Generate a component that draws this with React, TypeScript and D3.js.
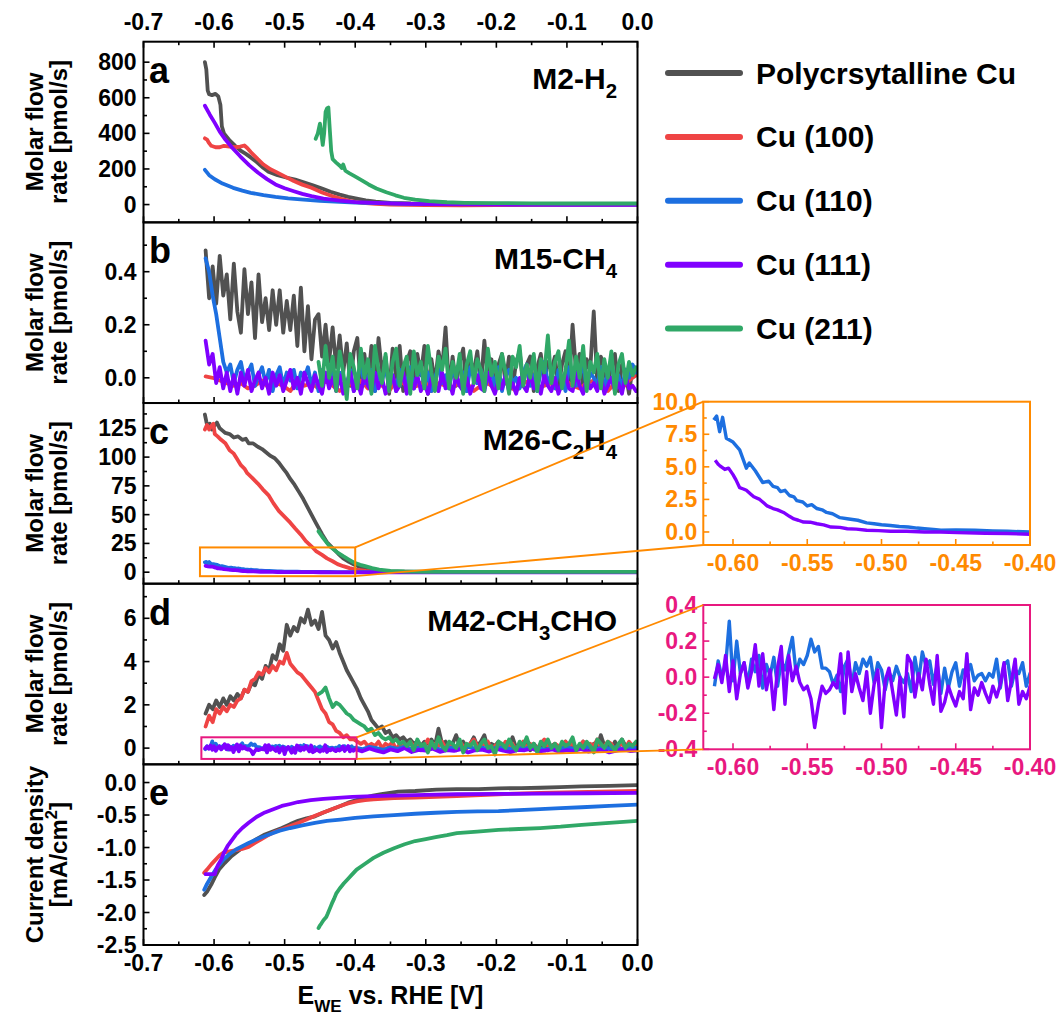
import React from 'react';
import * as d3 from 'd3';

type Pt = [number, number];

// legend entries, same order in every panel
const seriesNames = ['Polycrsytalline Cu', 'Cu (100)', 'Cu (110)', 'Cu (111)', 'Cu (211)'];
const seriesColors = ['#515151', '#ef4444', '#1d6fe0', '#8000ff', '#30a867'];

const xMajor = [-0.7, -0.6, -0.5, -0.4, -0.3, -0.2, -0.1, 0.0];
const xMinor = [-0.65, -0.55, -0.45, -0.35, -0.25, -0.15, -0.05];
const insetXMajor = [-0.6, -0.55, -0.5, -0.45, -0.4];
const insetXMinor = [-0.575, -0.525, -0.475, -0.425];

// values sampled on a regular potential grid
const onGrid = (x0: number, step: number, vals: number[]): Pt[] => vals.map((v, i) => [x0 + i * step, v]);

// ---- a: M2-H2 [pmol/s]
const h2Poly: Pt[] = [[-0.613, 800], [-0.611, 760], [-0.609, 640], [-0.607, 620], [-0.603, 615], [-0.598, 622], [-0.594, 608], [-0.591, 560], [-0.589, 440], [-0.586, 400], [-0.582, 380], [-0.578, 360], [-0.570, 330], [-0.563, 305], [-0.555, 285], [-0.548, 265], [-0.540, 240], [-0.530, 205], [-0.523, 185], [-0.510, 165], [-0.498, 152], [-0.485, 140], [-0.473, 125], [-0.460, 108], [-0.447, 90], [-0.435, 72], [-0.422, 56], [-0.410, 43], [-0.396, 32], [-0.385, 24], [-0.371, 17], [-0.350, 10], [-0.321, 6], [-0.280, 4], [-0.200, 3], [-0.100, 2], [0, 2]];
const h2Cu100: Pt[] = [[-0.613, 372], [-0.610, 365], [-0.607, 345], [-0.604, 330], [-0.598, 322], [-0.592, 322], [-0.586, 330], [-0.578, 325], [-0.570, 322], [-0.563, 326], [-0.557, 332], [-0.553, 318], [-0.548, 295], [-0.543, 275], [-0.538, 255], [-0.530, 225], [-0.520, 198], [-0.513, 185], [-0.500, 158], [-0.487, 132], [-0.475, 112], [-0.462, 94], [-0.447, 68], [-0.432, 47], [-0.420, 32], [-0.407, 19], [-0.390, 10], [-0.371, 4], [-0.350, 0], [-0.300, -3], [-0.250, -4], [-0.200, -3], [-0.100, -2], [0, -2]];
const h2Cu110: Pt[] = [[-0.613, 195], [-0.607, 165], [-0.599, 142], [-0.588, 118], [-0.573, 94], [-0.560, 78], [-0.548, 66], [-0.530, 53], [-0.513, 43], [-0.495, 35], [-0.473, 28], [-0.450, 21], [-0.422, 15], [-0.400, 11], [-0.371, 8], [-0.340, 5], [-0.300, 3], [-0.200, 2], [-0.100, 1], [0, 1]];
const h2Cu111: Pt[] = [[-0.613, 555], [-0.606, 505], [-0.599, 459], [-0.592, 410], [-0.584, 365], [-0.574, 318], [-0.563, 271], [-0.550, 220], [-0.538, 180], [-0.525, 143], [-0.513, 113], [-0.500, 92], [-0.487, 75], [-0.475, 60], [-0.462, 47], [-0.445, 33], [-0.422, 22], [-0.400, 14], [-0.371, 9], [-0.340, 5], [-0.300, 2], [-0.200, 0], [-0.100, -1], [0, -1]];
const h2Cu211: Pt[] = [[-0.456, 370], [-0.453, 400], [-0.450, 455], [-0.448, 400], [-0.446, 335], [-0.444, 400], [-0.442, 520], [-0.440, 540], [-0.438, 545], [-0.436, 420], [-0.434, 300], [-0.432, 255], [-0.427, 236], [-0.421, 215], [-0.419, 205], [-0.417, 225], [-0.414, 190], [-0.408, 175], [-0.401, 160], [-0.390, 135], [-0.381, 113], [-0.370, 90], [-0.356, 69], [-0.343, 52], [-0.331, 38], [-0.315, 28], [-0.295, 19], [-0.270, 13], [-0.245, 10], [-0.200, 8], [-0.150, 7], [-0.100, 6], [-0.050, 6], [0, 6]];

// ---- b: M15-CH4 [pmol/s], step 5 mV from -0.612 V
const ch4Poly = [0.48, 0.30, 0.42, 0.28, 0.46, 0.31, 0.39, 0.22, 0.43, 0.25, 0.17, 0.41, 0.24, 0.36, 0.15, 0.39, 0.21, 0.30, 0.18, 0.33, 0.20, 0.33, 0.17, 0.29, 0.18, 0.31, 0.12, 0.34, 0.10, 0.27, 0.07, 0.22, 0.24, 0.08, 0.20, 0.06, 0.19, 0.04, 0.16, 0.02, 0.13, -0.03, 0.10, 0.15, -0.04, 0.09, -0.02, 0.12, -0.05, 0.15, 0.02, 0.08, -0.06, 0.11, 0.0, 0.12, -0.05, 0.06, 0.10, -0.04, 0.09, 0.01, 0.12, -0.06, 0.07, -0.02, 0.10, 0.03, 0.19, -0.04, 0.08, -0.03, 0.06, 0.11, -0.05, 0.07, 0.02, 0.10, -0.03, 0.14, 0.0, 0.07, -0.05, 0.05, 0.09, -0.02, 0.08, -0.04, 0.06, 0.10, -0.03, 0.05, 0.08, -0.05, 0.04, 0.09, -0.02, 0.06, 0.03, 0.08, -0.04, 0.05, 0.10, -0.03, 0.20, 0.02, 0.09, -0.05, 0.07, 0.03, 0.25, -0.02, 0.08, 0.04, -0.04, 0.06, 0.09, -0.05, 0.05, 0.02, -0.06, 0.04, 0.01];
const ch4Cu100 = [0.005, 0.0, -0.01, -0.02, -0.03, -0.02, -0.04, -0.03, -0.01, -0.04, -0.02, -0.03, -0.05, -0.01, -0.03, -0.02, -0.04, -0.01, -0.03, -0.05, -0.02, -0.03, -0.01, -0.04, -0.02, -0.03, -0.05, -0.01, -0.02, -0.04, -0.03, -0.01, -0.05, -0.02, -0.03, -0.04, -0.01, -0.02, -0.05, -0.03, -0.02, -0.04, -0.01, -0.03, -0.05, -0.02, -0.01, -0.04, -0.03, -0.02, -0.05, -0.01, -0.03, -0.04, -0.02, -0.01, -0.03, -0.05, -0.02, -0.04, -0.01, 0.01];
const ch4Cu110 = [0.45, 0.40, 0.31, 0.24, 0.15, 0.06, 0.02, 0.05, -0.02, 0.03, 0.06, -0.01, 0.02, 0.05, -0.03, 0.01, 0.04, -0.02, 0.03, -0.05, 0.01, 0.04, -0.03, 0.02, -0.01, 0.03, -0.04, 0.02, 0.0, 0.04, -0.03, 0.02, -0.05, 0.03, 0.01, -0.02, 0.04, -0.04, 0.02, 0.0, -0.03, 0.03, -0.05, 0.01, 0.04, -0.02, 0.0, 0.03, -0.05, 0.02, -0.01, 0.04, -0.03, 0.01, -0.05, 0.03, 0.0, -0.02, 0.04, -0.04, 0.01, 0.03, -0.03, 0.02, -0.05, 0.0, 0.04, -0.02, 0.01, -0.04, 0.03, 0.0, -0.03, 0.02, -0.05, 0.04, 0.01, -0.02, 0.03, -0.04, 0.0, 0.02, -0.03, 0.04, -0.05, 0.01, 0.03, -0.02, 0.0, -0.04, 0.02, 0.05, -0.03, 0.01, -0.05, 0.03, 0.06, -0.02, 0.01, -0.04, 0.03, 0.0, -0.05, 0.04, 0.02, -0.03, 0.01, 0.05, -0.04, 0.02, 0.0, -0.03, 0.04, -0.05, 0.02, 0.06, -0.02, 0.01, -0.04, 0.03, 0.0, 0.05, 0.02];
const ch4Cu111 = [0.14, 0.05, 0.09, -0.02, 0.04, -0.04, 0.02, -0.05, 0.01, -0.06, 0.02, -0.03, 0.03, -0.05, -0.01, 0.02, -0.04, 0.0, -0.06, 0.02, -0.03, 0.01, -0.05, -0.01, 0.03, -0.04, 0.0, -0.06, 0.02, -0.02, -0.05, 0.01, -0.03, -0.06, 0.02, -0.04, 0.0, -0.05, 0.01, -0.06, -0.02, 0.02, -0.05, -0.01, -0.06, 0.01, -0.03, -0.05, 0.02, -0.04, 0.0, -0.06, -0.02, 0.01, -0.05, -0.03, 0.02, -0.06, -0.01, -0.04, 0.01, -0.05, -0.02, -0.06, 0.0, -0.03, -0.05, 0.02, -0.04, -0.01, -0.06, 0.01, -0.03, -0.05, 0.0, -0.06, -0.02, 0.01, -0.04, -0.05, 0.02, -0.03, -0.06, -0.01, -0.04, 0.01, -0.05, -0.02, -0.06, 0.0, -0.03, -0.05, 0.02, -0.04, -0.01, -0.06, 0.01, -0.03, -0.05, 0.0, -0.06, -0.02, 0.01, -0.04, -0.05, 0.02, -0.03, -0.06, 0.0, -0.04, -0.02, -0.05, 0.01, -0.06, -0.03, 0.0, -0.05, -0.02, -0.06, 0.01, -0.04, -0.03, -0.05];
const ch4Cu211 = [0.06, -0.03, 0.12, 0.0, 0.08, -0.05, 0.10, 0.02, -0.08, 0.09, 0.04, -0.04, 0.11, 0.0, 0.07, -0.06, 0.12, 0.03, -0.02, 0.09, -0.05, 0.06, 0.11, -0.03, 0.04, 0.08, -0.06, 0.10, 0.01, 0.06, -0.04, 0.12, 0.02, -0.05, 0.08, 0.03, 0.11, -0.04, 0.06, 0.0, 0.09, -0.06, 0.05, 0.10, -0.02, 0.07, 0.03, -0.05, 0.11, 0.01, 0.06, -0.04, 0.09, 0.02, -0.06, 0.08, 0.04, 0.12, -0.03, 0.05, 0.0, 0.09, -0.05, 0.07, 0.02, 0.16, -0.02, 0.06, 0.10, -0.04, 0.03, 0.14, -0.03, 0.08, 0.0, 0.12, -0.05, 0.06, 0.02, 0.09, -0.04, 0.07, 0.0, 0.10, -0.06, 0.05, 0.09, -0.02, 0.06, 0.01, 0.04];

// ---- c: M26-C2H4 [pmol/s]
const c2h4Poly: Pt[] = [[-0.613, 137], [-0.611, 131], [-0.609, 126], [-0.606, 129], [-0.603, 124], [-0.600, 127], [-0.596, 130], [-0.592, 125], [-0.588, 123], [-0.584, 121], [-0.578, 120], [-0.572, 117], [-0.566, 118], [-0.560, 115], [-0.555, 116], [-0.551, 112], [-0.545, 112], [-0.538, 109], [-0.532, 107], [-0.526, 104], [-0.520, 101], [-0.514, 99], [-0.508, 95], [-0.502, 90], [-0.497, 86], [-0.492, 81], [-0.486, 76], [-0.480, 70], [-0.474, 64], [-0.468, 57], [-0.462, 50], [-0.455, 42], [-0.447, 33], [-0.440, 26], [-0.432, 21], [-0.424, 16], [-0.417, 12], [-0.409, 9], [-0.401, 6.5], [-0.391, 4], [-0.381, 2.3], [-0.370, 1.2], [-0.350, 0.6], [-0.300, 0.3], [-0.200, 0.2], [-0.100, 0.2], [0, 0.2]];
const c2h4Cu100: Pt[] = [[-0.613, 124], [-0.610, 128], [-0.607, 124], [-0.604, 127], [-0.601, 129], [-0.599, 120], [-0.595, 118], [-0.590, 115], [-0.584, 112], [-0.578, 106], [-0.572, 103], [-0.568, 99], [-0.562, 93], [-0.557, 90], [-0.553, 86], [-0.546, 82], [-0.538, 77], [-0.531, 72], [-0.523, 67], [-0.516, 60], [-0.508, 53], [-0.500, 48], [-0.492, 43], [-0.485, 38], [-0.477, 32.6], [-0.470, 27], [-0.462, 22.5], [-0.455, 18], [-0.447, 15], [-0.440, 12], [-0.432, 9.5], [-0.425, 7], [-0.417, 5.2], [-0.408, 3.5], [-0.399, 2.3], [-0.385, 1.2], [-0.370, 0.5], [-0.300, 0.3], [-0.200, 0.3], [0, 0.3]];
const c2h4Cu110: Pt[] = [[-0.613, 8.6], [-0.611, 8.9], [-0.609, 7.7], [-0.607, 8.8], [-0.6045, 7.2], [-0.600, 6.9], [-0.5955, 6.3], [-0.591, 4.9], [-0.589, 5.3], [-0.585, 4.7], [-0.580, 3.8], [-0.576, 3.9], [-0.573, 3.5], [-0.570, 3.4], [-0.568, 3.1], [-0.565, 3.2], [-0.562, 2.8], [-0.559, 2.7], [-0.557, 2.4], [-0.553, 2.3], [-0.550, 2.0], [-0.547, 2.1], [-0.5435, 1.8], [-0.540, 1.7], [-0.537, 1.5], [-0.533, 1.4], [-0.528, 1.1], [-0.522, 1.0], [-0.516, 0.9], [-0.510, 0.7], [-0.505, 0.63], [-0.500, 0.55], [-0.494, 0.5], [-0.488, 0.42], [-0.482, 0.38], [-0.476, 0.3], [-0.471, 0.25], [-0.465, 0.2], [-0.460, 0.13], [-0.450, 0.15], [-0.437, 0.13], [-0.425, 0.08], [-0.415, 0.05], [-0.400, 0.0], [-0.350, 0.0], [-0.300, 0.05], [-0.200, 0.0], [-0.100, 0.05], [0, 0.0]];
const c2h4Cu111: Pt[] = [[-0.612, 5.5], [-0.610, 5.2], [-0.609, 5.1], [-0.6055, 4.8], [-0.603, 4.9], [-0.600, 4.4], [-0.598, 4.0], [-0.5955, 3.4], [-0.593, 3.3], [-0.591, 3.2], [-0.588, 2.9], [-0.586, 2.7], [-0.582, 2.5], [-0.579, 2.2], [-0.577, 2.0], [-0.573, 1.8], [-0.570, 1.7], [-0.566, 1.5], [-0.562, 1.2], [-0.559, 1.0], [-0.556, 0.9], [-0.5525, 0.76], [-0.548, 0.75], [-0.5435, 0.63], [-0.539, 0.55], [-0.534, 0.38], [-0.528, 0.35], [-0.523, 0.25], [-0.517, 0.22], [-0.510, 0.13], [-0.502, 0.1], [-0.494, 0.05], [-0.483, 0.05], [-0.471, 0.0], [-0.460, 0.0], [-0.449, -0.05], [-0.430, -0.1], [-0.415, -0.12], [-0.400, -0.18], [-0.350, -0.1], [-0.300, -0.1], [-0.200, -0.05], [-0.100, -0.1], [0, -0.1]];
const c2h4Cu211: Pt[] = [[-0.452, 35.5], [-0.447, 31], [-0.442, 27], [-0.437, 23], [-0.432, 20.5], [-0.425, 17], [-0.417, 13.9], [-0.409, 11], [-0.401, 8.1], [-0.393, 6.4], [-0.386, 5.2], [-0.376, 3.5], [-0.366, 2.3], [-0.350, 1.2], [-0.330, 0.6], [-0.300, 0.3], [-0.200, 0.2], [-0.100, 0.2], [0, 0.2]];

// ---- d: M42-CH3CHO [pmol/s], step 5 mV from -0.612 V
const acePoly = [1.6, 2.0, 1.8, 2.2, 1.9, 2.3, 2.0, 2.4, 2.2, 2.5, 2.3, 2.7, 2.6, 3.0, 2.9, 3.4, 3.2, 3.8, 3.6, 4.3, 4.1, 4.8, 4.5, 5.7, 5.2, 5.6, 5.4, 6.0, 5.8, 6.4, 5.7, 5.9, 5.5, 6.3, 5.2, 5.0, 4.6, 4.9, 4.4, 4.0, 3.6, 3.3, 3.0, 2.7, 2.3, 2.0, 1.7, 1.3, 1.1, 0.9, 1.0, 0.7, 0.8, 0.5, 0.6, 0.4, 0.5, 0.3, 0.4, 0.2, 0.3, 0.1, 0.3, 0.2, 0.4, 0.1, 0.9, 0.2, 0.3, 0.0, 0.2, 0.6, 0.1, 0.3, 0.0, 0.2, 0.5, 0.1, 0.3, 0.6, 0.0, 0.2, 0.1, 0.3, 0.0, 0.2, 0.1, 0.5, 0.0, 0.2, 0.1, 0.3, -0.1, 0.2, 0.0, 0.1, 0.3, -0.1, 0.1, 0.2, 0.0, 0.1, 0.3, -0.1, 0.2, 0.0, 0.1, 0.3, -0.1, 0.1, 0.2, 0.0, 0.6, 0.1, 0.2, -0.1, 0.3, 0.0, 0.4, 0.1, 0.2, -0.1, 0.1];
const aceCu100 = [1.0, 1.5, 1.2, 1.8, 1.6, 1.9, 1.7, 2.0, 1.9, 2.2, 2.3, 2.7, 2.6, 3.1, 3.2, 3.5, 3.4, 3.7, 3.5, 3.8, 3.6, 4.0, 3.9, 4.4, 3.9, 3.7, 3.5, 3.4, 3.2, 3.0, 2.8, 2.6, 2.2, 1.8, 1.6, 1.2, 1.1, 0.8, 0.7, 0.5, 0.6, 0.4, 0.4, 0.3, 0.2, 0.3, 0.1, 0.2, 0.1, 0.3, 0.0, 0.2, 0.1, 0.3, -0.1, 0.2, 0.1, 0.0, 0.3, 0.1, 0.2, -0.1, 0.1, 0.4, 0.0, 0.2, 0.1, 0.3, 0.0, 0.2, 0.1, -0.1, 0.3, 0.1, 0.0, 0.2, 0.4, 0.1, 0.0, 0.2, 0.3, -0.1, 0.1, 0.2, 0.0, 0.3, 0.1, 0.2, -0.1, 0.1, 0.3, 0.0, 0.2, 0.1, 0.0, 0.2, 0.4, 0.1, 0.0, 0.2, 0.1, -0.1, 0.3, 0.1, 0.2, 0.0, 0.1, 0.3, 0.0, 0.2, 0.1, 0.4, 0.0, 0.1, 0.3, 0.2, -0.1, 0.1, 0.2, 0.0, 0.3, 0.1, 0.2];
// from -0.452 V
const aceCu211 = [2.5, 2.6, 2.8, 2.3, 1.9, 2.1, 2.0, 1.8, 1.6, 1.5, 1.3, 1.2, 1.1, 1.0, 0.8, 0.9, 0.6, 0.7, 0.5, 0.4, 0.5, 0.3, 0.4, 0.2, 0.3, 0.1, 0.3, -0.1, 0.4, 0.1, 0.2, -0.2, 0.3, 0.0, 0.5, 0.1, -0.1, 0.3, 0.2, 0.0, 0.4, -0.2, 0.2, 0.1, 0.3, -0.1, 0.2, 0.4, 0.0, 0.1, -0.3, 0.3, 0.2, 0.0, 0.4, 0.1, -0.1, 0.3, 0.1, 0.5, 0.0, 0.2, -0.2, 0.3, 0.1, 0.4, 0.0, 0.2, -0.1, 0.3, 0.1, 0.2, 0.5, -0.1, 0.2, 0.0, 0.3, 0.1, -0.2, 0.4, 0.2, 0.0, 0.3, 0.1, -0.1, 0.2, 0.4, 0.0, 0.2, 0.1, 0.3];
// zoomed range, step 2.5 mV from -0.6125 V
const aceCu110Zoom = [-0.05, 0.09, 0.0, 0.06, 0.31, -0.02, 0.20, 0.02, 0.08, -0.04, 0.10, 0.03, 0.12, -0.06, 0.07, 0.01, 0.11, -0.05, 0.09, 0.04, 0.13, 0.22, 0.02, 0.10, 0.07, 0.12, 0.21, 0.14, 0.17, 0.05, 0.05, 0.03, -0.04, 0.01, -0.08, 0.06, 0.10, -0.05, 0.08, 0.02, 0.10, 0.06, 0.11, -0.03, 0.08, 0.04, -0.07, 0.03, -0.02, 0.06, 0.0, -0.03, 0.02, -0.08, 0.11, -0.02, 0.14, 0.06, 0.09, -0.04, 0.07, -0.09, 0.05, -0.06, 0.03, 0.08, -0.05, 0.04, 0.02, 0.07, -0.02, 0.01, 0.02, -0.02, 0.02, 0.0, 0.10, -0.06, 0.07, 0.09, -0.05, 0.04, 0.02, 0.08, -0.05, 0.02];
const aceCu111Zoom = [-0.01, 0.07, -0.03, 0.12, -0.08, 0.09, -0.12, 0.02, 0.08, -0.06, 0.03, 0.18, -0.05, 0.13, -0.07, 0.04, -0.18, 0.05, 0.17, -0.15, 0.12, -0.02, 0.06, -0.03, -0.07, -0.05, -0.12, -0.28, -0.15, -0.05, -0.09, -0.07, -0.03, -0.06, 0.13, -0.20, 0.14, -0.08, 0.02, -0.06, -0.13, 0.03, -0.20, -0.04, 0.04, -0.28, -0.02, 0.05, -0.08, -0.21, 0.0, -0.22, 0.12, 0.08, -0.11, 0.02, -0.07, 0.10, -0.04, -0.15, 0.12, -0.19, -0.14, -0.05, -0.11, -0.16, -0.08, -0.12, 0.13, -0.18, -0.06, -0.10, -0.03, -0.09, -0.14, -0.05, -0.11, -0.04, 0.08, -0.13, -0.02, 0.10, -0.15, -0.08, -0.12, -0.05];
// rest of the sweep, step 10 mV from -0.39 V
const aceCu110Tail = [-0.05, 0.06, 0.0, -0.08, 0.04, -0.03, 0.07, -0.06, 0.02, -0.01, 0.05, -0.07, 0.03, 0.0, -0.04, 0.06, -0.02, 0.03, -0.06, 0.01, 0.04, -0.05, 0.02, -0.03, 0.06, 0.0, -0.07, 0.03, -0.02, 0.05, -0.04, 0.01, 0.06, -0.05, 0.02, -0.01, 0.04, -0.06, 0.03, 0.0];
const aceCu111Tail = [-0.15, -0.02, -0.12, -0.2, -0.06, -0.14, 0.0, -0.18, -0.08, -0.11, -0.03, -0.17, -0.09, -0.13, -0.05, -0.2, -0.1, -0.07, -0.16, -0.04, -0.12, -0.19, -0.08, -0.1, -0.02, -0.15, -0.11, -0.06, -0.18, -0.09, -0.13, -0.04, -0.16, -0.1, -0.07, -0.2, -0.12, -0.05, -0.14, -0.1];

// ---- e: current density [mA/cm2]
const jPoly: Pt[] = [[-0.614, -1.73], [-0.610, -1.68], [-0.604, -1.57], [-0.599, -1.46], [-0.593, -1.34], [-0.585, -1.24], [-0.575, -1.13], [-0.563, -1.03], [-0.551, -0.95], [-0.540, -0.87], [-0.528, -0.80], [-0.516, -0.75], [-0.504, -0.70], [-0.492, -0.64], [-0.481, -0.59], [-0.469, -0.55], [-0.457, -0.52], [-0.445, -0.46], [-0.433, -0.41], [-0.421, -0.36], [-0.410, -0.31], [-0.398, -0.27], [-0.386, -0.23], [-0.375, -0.20], [-0.363, -0.18], [-0.351, -0.16], [-0.339, -0.14], [-0.315, -0.13], [-0.285, -0.11], [-0.256, -0.10], [-0.225, -0.10], [-0.197, -0.09], [-0.165, -0.085], [-0.138, -0.08], [-0.110, -0.07], [-0.079, -0.06], [-0.040, -0.05], [0, -0.04]];
const jCu100: Pt[] = [[-0.614, -1.39], [-0.610, -1.34], [-0.604, -1.26], [-0.598, -1.19], [-0.592, -1.12], [-0.587, -1.08], [-0.578, -1.06], [-0.569, -1.04], [-0.560, -1.02], [-0.551, -0.99], [-0.542, -0.93], [-0.534, -0.88], [-0.525, -0.82], [-0.516, -0.77], [-0.504, -0.72], [-0.492, -0.67], [-0.480, -0.62], [-0.469, -0.57], [-0.457, -0.51], [-0.445, -0.46], [-0.433, -0.41], [-0.421, -0.36], [-0.410, -0.32], [-0.398, -0.29], [-0.386, -0.27], [-0.374, -0.26], [-0.345, -0.24], [-0.315, -0.23], [-0.256, -0.21], [-0.197, -0.18], [-0.138, -0.16], [-0.070, -0.145], [0, -0.13]];
const jCu110: Pt[] = [[-0.614, -1.65], [-0.610, -1.56], [-0.604, -1.45], [-0.598, -1.34], [-0.592, -1.26], [-0.587, -1.19], [-0.578, -1.10], [-0.569, -1.03], [-0.560, -0.98], [-0.551, -0.93], [-0.537, -0.86], [-0.522, -0.80], [-0.507, -0.74], [-0.492, -0.70], [-0.475, -0.66], [-0.457, -0.62], [-0.440, -0.59], [-0.421, -0.57], [-0.400, -0.545], [-0.374, -0.52], [-0.345, -0.50], [-0.315, -0.48], [-0.286, -0.465], [-0.256, -0.45], [-0.227, -0.445], [-0.197, -0.44], [-0.168, -0.425], [-0.138, -0.41], [-0.109, -0.395], [-0.079, -0.38], [-0.040, -0.36], [0, -0.34]];
const jCu111: Pt[] = [[-0.612, -1.41], [-0.605, -1.41], [-0.599, -1.41], [-0.597, -1.33], [-0.594, -1.26], [-0.590, -1.19], [-0.586, -1.08], [-0.581, -0.98], [-0.575, -0.89], [-0.569, -0.80], [-0.560, -0.70], [-0.551, -0.62], [-0.540, -0.53], [-0.528, -0.46], [-0.516, -0.41], [-0.504, -0.36], [-0.492, -0.33], [-0.481, -0.30], [-0.463, -0.27], [-0.445, -0.25], [-0.425, -0.235], [-0.404, -0.22], [-0.375, -0.21], [-0.345, -0.20], [-0.300, -0.19], [-0.256, -0.18], [-0.197, -0.175], [-0.138, -0.17], [-0.070, -0.165], [0, -0.16]];
const jCu211: Pt[] = [[-0.452, -2.24], [-0.450, -2.20], [-0.448, -2.17], [-0.445, -2.12], [-0.441, -2.07], [-0.439, -2.02], [-0.436, -1.94], [-0.433, -1.86], [-0.430, -1.79], [-0.427, -1.71], [-0.422, -1.63], [-0.416, -1.55], [-0.410, -1.48], [-0.404, -1.41], [-0.398, -1.34], [-0.386, -1.25], [-0.374, -1.16], [-0.360, -1.08], [-0.345, -1.01], [-0.330, -0.95], [-0.315, -0.90], [-0.300, -0.87], [-0.286, -0.84], [-0.270, -0.81], [-0.256, -0.78], [-0.227, -0.755], [-0.197, -0.73], [-0.168, -0.715], [-0.138, -0.70], [-0.109, -0.68], [-0.079, -0.65], [-0.040, -0.62], [0, -0.59]];

const aceCu110 = onGrid(-0.6125, 0.0025, aceCu110Zoom).concat(onGrid(-0.39, 0.01, aceCu110Tail));
const aceCu111 = onGrid(-0.6125, 0.0025, aceCu111Zoom).concat(onGrid(-0.39, 0.01, aceCu111Tail));

// layout
const X_LEFT = 143.5;
const X_RIGHT = 637.5;
const PANEL_TOP = 41.7;
const PANEL_H = 180.66;
const FONT = "'Liberation Sans', Arial, Helvetica, sans-serif";
const ORANGE = '#ff8a00';
const PINK = '#e8187f';
const TICK_FONT = 23;

type Seg = [string, number]; // 0 normal, 1 subscript, 2 superscript

const panels = [
    {
        letter: 'a', title: [['M2-H', 0], ['2', 1]] as Seg[], domain: [-100, 915],
        major: [0, 200, 400, 600, 800], minor: [100, 300, 500, 700], digits: 0,
        ylab: [[['Molar flow', 0]], [['rate [pmol/s]', 0]]] as Seg[][],
        data: [h2Poly, h2Cu100, h2Cu110, h2Cu111, h2Cu211],
    },
    {
        letter: 'b', title: [['M15-CH', 0], ['4', 1]] as Seg[], domain: [-0.095, 0.586],
        major: [0, 0.2, 0.4], minor: [0.1, 0.3, 0.5], digits: 1,
        ylab: [[['Molar flow', 0]], [['rate [pmol/s]', 0]]] as Seg[][],
        data: [onGrid(-0.612, 0.005, ch4Poly), onGrid(-0.612, 0.01, ch4Cu100), onGrid(-0.612, 0.005, ch4Cu110),
            onGrid(-0.612, 0.005, ch4Cu111), onGrid(-0.452, 0.005, ch4Cu211)],
    },
    {
        letter: 'c', title: [['M26-C', 0], ['2', 1], ['H', 0], ['4', 1]] as Seg[], domain: [-10, 147],
        major: [0, 25, 50, 75, 100, 125], minor: [12.5, 37.5, 62.5, 87.5, 112.5, 137.5], digits: 0,
        ylab: [[['Molar flow', 0]], [['rate [pmol/s]', 0]]] as Seg[][],
        data: [c2h4Poly, c2h4Cu100, c2h4Cu110, c2h4Cu111, c2h4Cu211],
    },
    {
        letter: 'd', title: [['M42-CH', 0], ['3', 1], ['CHO', 0]] as Seg[], domain: [-0.75, 7.6],
        major: [0, 2, 4, 6], minor: [1, 3, 5, 7], digits: 0,
        ylab: [[['Molar flow', 0]], [['rate [pmol/s]', 0]]] as Seg[][],
        data: [onGrid(-0.612, 0.005, acePoly), onGrid(-0.612, 0.005, aceCu100), aceCu110, aceCu111, onGrid(-0.452, 0.005, aceCu211)],
    },
    {
        letter: 'e', title: [] as Seg[], domain: [-2.5, 0.28],
        major: [-2.5, -2.0, -1.5, -1.0, -0.5, 0.0], minor: [-2.25, -1.75, -1.25, -0.75, -0.25], digits: 1,
        ylab: [[['Current density', 0]], [['[mA/cm', 0], ['2', 2], [']', 0]]] as Seg[][],
        data: [jPoly, jCu100, jCu110, jCu111, jCu211],
    },
];

const fmt = (v: number, digits: number) => (Math.abs(v) < 1e-9 ? 0 : v).toFixed(digits);

function Rich({ segs, size }: { segs: Seg[]; size: number }) {
    let shift = 0;
    return (
        <>
            {segs.map(([t, k], i) => {
                const target = k === 1 ? size * 0.3 : k === 2 ? -size * 0.4 : 0;
                const dy = target - shift;
                shift = target;
                return <tspan key={i} dy={dy} fontSize={k ? size * 0.68 : size}>{t}</tspan>;
            })}
        </>
    );
}

const xScale = d3.scaleLinear().domain([-0.7, 0]).range([X_LEFT, X_RIGHT]);

function Panel({ cfg, index }: { cfg: typeof panels[number]; index: number }) {
    const top = PANEL_TOP + index * PANEL_H;
    const bottom = top + PANEL_H;
    const y = d3.scaleLinear().domain(cfg.domain).range([bottom, top]);
    const line = d3.line<Pt>().x((d) => xScale(d[0])).y((d) => y(d[1]));
    const cy = (top + bottom) / 2;
    const inRange = (v: number) => y(v) > top + 2 && y(v) < bottom - 2;
    return (
        <g>
            <clipPath id={`clip-${index}`}>
                <rect x={X_LEFT} y={top} width={X_RIGHT - X_LEFT} height={PANEL_H} />
            </clipPath>
            <g clipPath={`url(#clip-${index})`}>
                {cfg.data.map((s, i) => (
                    <path key={i} d={line(s) || ''} fill="none" stroke={seriesColors[i]} strokeWidth={3.8} strokeLinejoin="round" strokeLinecap="round" />
                ))}
            </g>
            <rect x={X_LEFT} y={top} width={X_RIGHT - X_LEFT} height={PANEL_H} fill="none" stroke="#000" strokeWidth={2} />
            {/* bottom ticks, inward */}
            {xMajor.map((v) => <line key={`bM${v}`} x1={xScale(v)} x2={xScale(v)} y1={bottom} y2={bottom - 6} stroke="#000" strokeWidth={1.6} />)}
            {xMinor.map((v) => <line key={`bm${v}`} x1={xScale(v)} x2={xScale(v)} y1={bottom} y2={bottom - 3.5} stroke="#000" strokeWidth={1.6} />)}
            {index === 0 && xMajor.map((v) => <line key={`tM${v}`} x1={xScale(v)} x2={xScale(v)} y1={top} y2={top + 6} stroke="#000" strokeWidth={1.6} />)}
            {index === 0 && xMinor.map((v) => <line key={`tm${v}`} x1={xScale(v)} x2={xScale(v)} y1={top} y2={top + 3.5} stroke="#000" strokeWidth={1.6} />)}
            {/* left ticks */}
            {cfg.major.map((v) => (
                <g key={`yM${v}`}>
                    {inRange(v) && <line x1={X_LEFT} x2={X_LEFT + 6} y1={y(v)} y2={y(v)} stroke="#000" strokeWidth={1.6} />}
                    <text x={X_LEFT - 7} y={y(v) + 8} textAnchor="end" fontSize={TICK_FONT}>{fmt(v, cfg.digits)}</text>
                </g>
            ))}
            {cfg.minor.filter(inRange).map((v) => (
                <line key={`ym${v}`} x1={X_LEFT} x2={X_LEFT + 3.5} y1={y(v)} y2={y(v)} stroke="#000" strokeWidth={1.6} />
            ))}
            <text x={149} y={top + 41} fontSize={36}>{cfg.letter}</text>
            {cfg.title.length > 0 && (
                <text x={617} y={top + 47} textAnchor="end"><Rich segs={cfg.title} size={30} /></text>
            )}
            {cfg.ylab.map((segs, i) => (
                <text key={i} transform={`translate(${i === 0 ? 43 : 67},${cy}) rotate(-90)`} textAnchor="middle">
                    <Rich segs={segs} size={24} />
                </text>
            ))}
        </g>
    );
}

function Inset({ top, bottom, yDomain, yMajor, yMinor, digits, color, data, id }: {
    top: number; bottom: number; yDomain: number[]; yMajor: number[]; yMinor: number[];
    digits: number; color: string; data: Pt[][]; id: string;
}) {
    const left = 703.3;
    const right = 1030;
    const x = d3.scaleLinear().domain([-0.62, -0.4]).range([left, right]);
    const y = d3.scaleLinear().domain(yDomain).range([bottom, top]);
    const line = d3.line<Pt>().x((d) => x(d[0])).y((d) => y(d[1]));
    return (
        <g>
            <clipPath id={id}>
                <rect x={left} y={top} width={right - left} height={bottom - top} />
            </clipPath>
            <g clipPath={`url(#${id})`}>
                {data.map((s, i) => (
                    <path key={i} d={line(s) || ''} fill="none" stroke={seriesColors[i + 2]} strokeWidth={3.4} strokeLinejoin="round" />
                ))}
            </g>
            <rect x={left} y={top} width={right - left} height={bottom - top} fill="none" stroke={color} strokeWidth={2} />
            {insetXMajor.map((v) => (
                <g key={`M${v}`}>
                    <line x1={x(v)} x2={x(v)} y1={bottom} y2={bottom - 6} stroke={color} strokeWidth={1.6} />
                    <text x={x(v)} y={bottom + 26} textAnchor="middle" fontSize={23} fill={color}>{fmt(v, 2)}</text>
                </g>
            ))}
            {insetXMinor.map((v) => <line key={`m${v}`} x1={x(v)} x2={x(v)} y1={bottom} y2={bottom - 3.5} stroke={color} strokeWidth={1.6} />)}
            {yMajor.map((v) => (
                <g key={`yM${v}`}>
                    <line x1={left} x2={left + 6} y1={y(v)} y2={y(v)} stroke={color} strokeWidth={1.6} />
                    <text x={left - 6} y={y(v) + 8} textAnchor="end" fontSize={23} fill={color}>{fmt(v, digits)}</text>
                </g>
            ))}
            {yMinor.map((v) => <line key={`ym${v}`} x1={left} x2={left + 3.5} y1={y(v)} y2={y(v)} stroke={color} strokeWidth={1.6} />)}
        </g>
    );
}

export default function App() {
    const yC = d3.scaleLinear().domain(panels[2].domain).range([PANEL_TOP + 3 * PANEL_H, PANEL_TOP + 2 * PANEL_H]);
    const yD = d3.scaleLinear().domain(panels[3].domain).range([PANEL_TOP + 4 * PANEL_H, PANEL_TOP + 3 * PANEL_H]);
    const bottomAxis = PANEL_TOP + 5 * PANEL_H;
    // zoom boxes in c and d, and where they open up
    const boxC = { x0: xScale(-0.62), x1: xScale(-0.4), y0: yC(21.5), y1: yC(-3.5) };
    const boxD = { x0: xScale(-0.618), x1: xScale(-0.398), y0: yD(0.5), y1: yD(-0.5) };
    const orange = { top: 401.7, bottom: 545 };
    const pink = { top: 605, bottom: 749.3 };
    return (
        <svg width={1058} height={1022} style={{ position: 'absolute', left: 0, top: 0, background: '#fff' }}
            fontFamily={FONT} fontWeight="bold">
            {panels.map((p, i) => <Panel key={p.letter} cfg={p} index={i} />)}
            {/* top and bottom potential labels */}
            {xMajor.map((v) => (
                <g key={v}>
                    <text x={xScale(v)} y={30} textAnchor="middle" fontSize={TICK_FONT}>{fmt(v, 1)}</text>
                    <text x={xScale(v)} y={bottomAxis + 26} textAnchor="middle" fontSize={TICK_FONT}>{fmt(v, 1)}</text>
                </g>
            ))}
            <text x={(X_LEFT + X_RIGHT) / 2} y={1004} textAnchor="middle">
                <Rich segs={[['E', 0], ['WE', 1], [' vs. RHE [V]', 0]]} size={25} />
            </text>

            <rect x={boxC.x0} y={boxC.y0} width={boxC.x1 - boxC.x0} height={boxC.y1 - boxC.y0} fill="none" stroke={ORANGE} strokeWidth={2} />
            <rect x={boxD.x0} y={boxD.y0} width={boxD.x1 - boxD.x0} height={boxD.y1 - boxD.y0} fill="none" stroke={PINK} strokeWidth={2} />

            <Inset id="inset-c" top={orange.top} bottom={orange.bottom} yDomain={[-1, 10]}
                yMajor={[0, 2.5, 5, 7.5, 10]} yMinor={[1.25, 3.75, 6.25, 8.75]} digits={1} color={ORANGE}
                data={[c2h4Cu110, c2h4Cu111]} />
            <Inset id="inset-d" top={pink.top} bottom={pink.bottom} yDomain={[-0.4, 0.4]}
                yMajor={[-0.4, -0.2, 0, 0.2, 0.4]} yMinor={[-0.3, -0.1, 0.1, 0.3]} digits={1} color={PINK}
                data={[aceCu110, aceCu111]} />

            <g stroke={ORANGE} strokeWidth={1.8}>
                <line x1={boxC.x1} y1={boxC.y0} x2={703.3} y2={orange.top} />
                <line x1={boxC.x1} y1={boxC.y1} x2={703.3} y2={orange.bottom} />
                <line x1={boxD.x1} y1={boxD.y0} x2={703.3} y2={pink.top} />
                <line x1={boxD.x1} y1={boxD.y1} x2={703.3} y2={pink.bottom} />
            </g>

            {/* legend */}
            {seriesNames.map((name, i) => (
                <g key={name} transform={`translate(0,${73 + i * 63.9})`}>
                    <line x1={668} x2={740} y1={0} y2={0} stroke={seriesColors[i]} strokeWidth={6} strokeLinecap="round" />
                    <text x={756} y={10.5} fontSize={30}>{name}</text>
                </g>
            ))}
        </svg>
    );
}
